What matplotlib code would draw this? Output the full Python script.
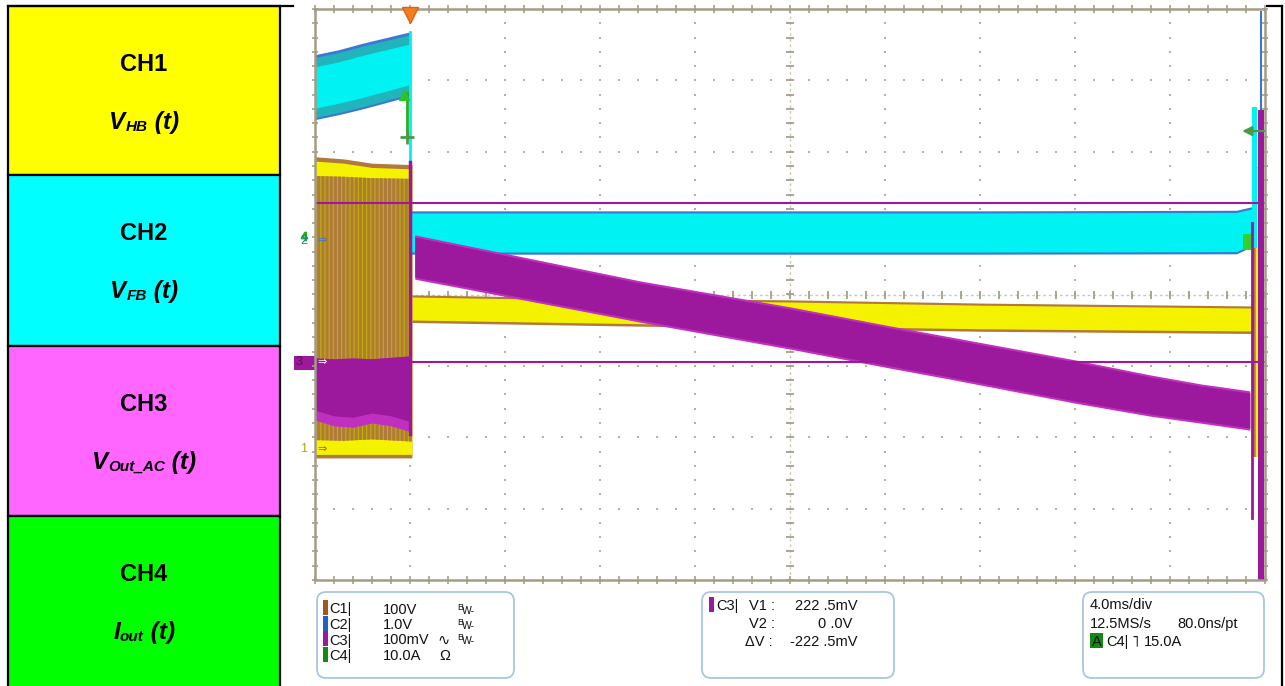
import numpy as np
import matplotlib
matplotlib.use('Agg')
import matplotlib.pyplot as plt
from matplotlib.patches import Rectangle, FancyBboxPatch

plt.rcParams['font.family'] = ['Liberation Sans', 'DejaVu Sans']
plt.rcParams['hatch.linewidth'] = 2.2

# ---------------- data (screen divisions: x = time div 0..10, y = vertical div -4..4) -------------
panel_titles = ['CH1', 'CH2', 'CH3', 'CH4']
panel_main = ['V', 'V', 'V', 'I']
panel_sub = ['HB', 'FB', 'Out_AC', 'out']
panel_colors = ['#ffff00', '#00ffff', '#ff66ff', '#00ff00']

# channel ground markers (div)
ch1_ground = -2.165
ch2_ground = 0.764
ch3_ground = -0.946
ch3_scale_mV = 100.0
cursor_v1_mV = 222.5
cursor_v2_mV = 0.0

# CH1 (V_HB) while switching (before t = 1 div)
ch1_pre_t = [0.0, 0.3, 0.6, 1.02]
ch1_pre_top = [1.93, 1.90, 1.84, 1.82]
ch1_pre_bot = [-2.29, -2.29, -2.29, -2.29]
ch1_pre_mix_top = [1.66, 1.65, 1.63, 1.62]
ch1_pre_mix_bot = [-2.04, -2.05, -2.03, -2.06]
# CH1 after switch-off
ch1_t = [1.02, 3.0, 5.0, 7.0, 9.86]
ch1_top = [-0.035, -0.08, -0.105, -0.15, -0.19]
ch1_bot = [-0.357, -0.40, -0.441, -0.48, -0.511]
# CH1 end burst
ch1_end_t = [9.86, 9.93]
ch1_end_top = [1.79, 1.79]
ch1_end_bot = [-2.28, -2.28]

# CH2 (V_FB)
ch2_pre_t = [0.0, 0.25, 0.5, 0.75, 1.0]
ch2_pre_top = [3.36, 3.43, 3.52, 3.60, 3.68]
ch2_pre_bot = [2.45, 2.52, 2.60, 2.69, 2.78]
ch2_t = [1.0, 3.0, 5.0, 7.0, 9.70, 9.86]
ch2_top = [1.142, 1.142, 1.142, 1.142, 1.15, 1.20]
ch2_bot = [0.595, 0.595, 0.595, 0.595, 0.60, 0.70]
ch2_end_t = [9.86, 9.92]
ch2_end_top = [2.63, 2.63]
ch2_end_bot = [0.65, 0.65]
ch2_spike_t = 9.96
ch2_spike_top = 3.96

# CH3 (V_Out_AC)
ch3_pre_t = [0.0, 0.2, 0.4, 0.6, 0.8, 1.0]
ch3_pre_top = [-0.89, -0.90, -0.89, -0.90, -0.88, -0.86]
ch3_pre_bot = [-1.62, -1.70, -1.72, -1.66, -1.70, -1.78]
ch3_t = [1.05, 3.42, 5.0, 6.05, 6.68, 8.0, 8.79, 9.32, 9.84]
ch3_top = [0.806, 0.161, -0.203, -0.469, -0.623, -0.946, -1.156, -1.282, -1.380]
ch3_bot = [0.245, -0.357, -0.735, -1.001, -1.155, -1.492, -1.674, -1.772, -1.870]
ch3_spike_t = 9.86
ch3_spike_top, ch3_spike_bot = 1.0, -3.13
ch3_edge_t = [9.93, 9.99]
ch3_edge_top, ch3_edge_bot = 2.58, -4.0

# CH4 (I_out)
ch4_t = [0.97, 0.97]
ch4_y = [2.82, 2.21]
ch4_end_t = [9.77, 9.85]
ch4_end_top, ch4_end_bot = 0.85, 0.62
trigger_t = 1.0
trigger_level = 2.29

# info boxes
box1_rows = [('C1|', '100V', 'BW'), ('C2|', '1.0V', 'BW'), ('C3|', '100mV', 'AC_BW'), ('C4|', '10.0A', 'OHM')]
box1_colors = ['#a0581e', '#2060c8', '#9a1a9a', '#108a10']
timebase = '4.0ms/div'
samplerate = '12.5MS/s'
resolution = '80.0ns/pt'
trig_level_txt = '15.0A'

# ------------------------------------------------------------------------------------------
fig = plt.figure(figsize=(12.85, 6.86), dpi=100)
bg = fig.add_axes([0, 0, 1, 1])
bg.set_xlim(0, 1285)
bg.set_ylim(686, 0)
bg.axis('off')
renderer = fig.canvas.get_renderer()

# left panel boxes
bounds = [6, 175, 346, 516, 700]
for i, c in enumerate(panel_colors):
    bg.add_patch(Rectangle((8, bounds[i]), 272, bounds[i + 1] - bounds[i],
                           facecolor=c, edgecolor='black', lw=1.6, zorder=1))
bg.plot([8, 293], [6, 6], color='black', lw=1.6, zorder=2)
bg.plot([1267, 1282], [6, 6], color='black', lw=1.6, zorder=2)
bg.plot([1282, 1282], [6, 690], color='black', lw=1.6, zorder=2)


def rich(xc, base, pieces):
    objs = []
    for s, size, dy in pieces:
        t = bg.text(0, base + dy, s, fontsize=size, fontweight='bold', fontstyle='italic',
                    family='Liberation Sans', va='baseline', ha='left', zorder=5)
        objs.append(t)
    widths = [o.get_window_extent(renderer).width for o in objs]
    x = xc - sum(widths) / 2
    for o, w in zip(objs, widths):
        o.set_x(x)
        x += w


for i in range(4):
    top = bounds[i]
    bg.text(144, top + 65, panel_titles[i], fontsize=17, fontweight='bold',
            family='Liberation Sans', ha='center', va='baseline', zorder=5)
    rich(144, top + 123, [(panel_main[i], 17.5, 0), (panel_sub[i], 11, 2), (' (t)', 17.5, 0)])

# ---------------- scope graticule ----------------
ax = fig.add_axes([315 / 1285, (686 - 580) / 686, 950 / 1285, 571 / 686])
ax.set_xlim(0, 10)
ax.set_ylim(-4, 4)
ax.axis('off')

gridc = '#b8b19c'
tickc = '#a69f88'
subx = np.arange(0, 10.001, 0.2)
suby = np.arange(-4, 4.001, 0.2)
for xv in range(1, 10):
    if xv != 5:
        ax.scatter(np.full_like(suby, xv), suby, marker='s', s=2.2, c=gridc, linewidths=0, zorder=1)
for yv in range(-3, 4):
    if yv != 0:
        ax.scatter(subx, np.full_like(subx, yv), marker='s', s=2.2, c=gridc, linewidths=0, zorder=1)
ax.plot([0, 10], [0, 0], color='#cdc8ba', lw=1.0, ls=(0, (2, 2)), zorder=1)
ax.plot([5, 5], [-4, 4], color='#cdc8ba', lw=1.0, ls=(0, (2, 2)), zorder=1)
ax.plot(subx, np.zeros_like(subx), ls='none', marker='|', ms=6, mew=1.3, color=tickc, zorder=1)
ax.plot(np.full_like(suby, 5), suby, ls='none', marker='_', ms=6, mew=1.3, color=tickc, zorder=1)
for yv in (4, -4):
    ax.plot(subx, np.full_like(subx, yv), ls='none', marker='|', ms=6, mew=1.2, color=tickc,
            zorder=1, clip_on=False)
for xv in (0, 10):
    ax.plot(np.full_like(suby, xv), suby, ls='none', marker='_', ms=5, mew=1.2, color=tickc,
            zorder=1, clip_on=False)
ax.add_patch(Rectangle((0, -4), 10, 8, fill=False, edgecolor='#a39d86', lw=1.8, zorder=8,
                       clip_on=False))

# ---------------- CH1 ----------------
yel, brown, olive = '#f5f200', '#b07a3c', '#c2b300'
ax.fill_between(ch1_pre_t, ch1_pre_bot, ch1_pre_top, color=brown, lw=0, zorder=2)
ax.fill_between(ch1_pre_t, np.array(ch1_pre_bot) + 0.05, np.array(ch1_pre_top) - 0.06,
                color=yel, lw=0, zorder=2)
ax.fill_between(ch1_pre_t, ch1_pre_mix_bot, ch1_pre_mix_top, facecolor=olive,
                edgecolor=brown, hatch='||||', lw=0, zorder=2)
ax.fill_between(ch1_t, np.array(ch1_bot) - 0.035, np.array(ch1_top) + 0.03, color=brown, lw=0, zorder=2)
ax.fill_between(ch1_t, ch1_bot, ch1_top, color=yel, lw=0, zorder=2)
ax.fill_between(ch1_end_t, ch1_end_bot, ch1_end_top, facecolor=yel, edgecolor=brown,
                hatch='||', lw=0, zorder=2)

# ---------------- CH2 ----------------
cyan, teal, blue = '#00f2f2', '#22b4bc', '#3c78d0'
ax.fill_between(ch2_pre_t, ch2_pre_bot, ch2_pre_top, color=blue, lw=0, zorder=3)
ax.fill_between(ch2_pre_t, np.array(ch2_pre_bot) + 0.03, np.array(ch2_pre_top) - 0.04,
                color=teal, lw=0, zorder=3)
ax.fill_between(ch2_pre_t, np.array(ch2_pre_bot) + 0.16, np.array(ch2_pre_top) - 0.17,
                color=cyan, lw=0, zorder=3)
ax.plot([ch2_t[0], ch2_t[0]], [ch2_pre_top[-1], ch2_bot[0]], color=cyan, lw=2, zorder=3)
ax.fill_between(ch2_t, np.array(ch2_bot) - 0.03, np.array(ch2_top) + 0.03, color=blue, lw=0, zorder=3)
ax.fill_between(ch2_t, ch2_bot, ch2_top, color=cyan, lw=0, zorder=3)
ax.fill_between(ch2_end_t, ch2_end_bot, ch2_end_top, color=cyan, lw=0, zorder=3)
ax.plot([ch2_spike_t, ch2_spike_t], [ch2_end_bot[0], ch2_spike_top], color=blue, lw=1.5, zorder=3)

# ---------------- CH3 ----------------
mag, magl = '#9c189c', '#c030c0'
ax.fill_between(ch3_pre_t, np.array(ch3_pre_bot) - 0.14, ch3_pre_top, color=magl, lw=0, zorder=4)
ax.fill_between(ch3_pre_t, ch3_pre_bot, ch3_pre_top, color=mag, lw=0, zorder=4)
ax.plot([1.0, 1.0], [1.85, -1.95], color=mag, lw=2.5, zorder=4)
ax.fill_between(ch3_t, np.array(ch3_bot) - 0.03, np.array(ch3_top) + 0.03, color=magl, lw=0, zorder=4)
ax.fill_between(ch3_t, ch3_bot, ch3_top, color=mag, lw=0, zorder=4)
ax.plot([ch3_spike_t, ch3_spike_t], [ch3_spike_top, ch3_spike_bot], color=mag, lw=2, zorder=4)
ax.fill_between(ch3_edge_t, [ch3_edge_bot] * 2, [ch3_edge_top] * 2, color=mag, lw=0, zorder=4)

# ---------------- CH4 ----------------
grn = '#22b022'
ax.plot(ch4_t, ch4_y, color=grn, lw=2, zorder=5)
ax.plot(ch4_t[0] - 0.03, ch4_y[0] - 0.02, marker='^', ms=7, color='#30c030', zorder=6)
ax.plot(ch4_t[1], ch4_y[1], marker='+', ms=10, mew=2, color='#4a9a4a', zorder=6)
ax.fill_between(ch4_end_t, [ch4_end_bot] * 2, [ch4_end_top] * 2, color='#30d030', lw=0, zorder=5)
ax.annotate('', xy=(9.73, trigger_level), xytext=(10.02, trigger_level),
            arrowprops=dict(arrowstyle='-|>', color='#4a9a4a', lw=1.6, mutation_scale=14),
            zorder=9, annotation_clip=False)
ax.plot(trigger_t, 3.92, marker='v', ms=12, color='#f47c20', mec='#e06010', zorder=9, clip_on=False)

# ---------------- cursors ----------------
v1 = ch3_ground + cursor_v1_mV / ch3_scale_mV
v2 = ch3_ground + cursor_v2_mV / ch3_scale_mV
for v in (v1, v2):
    ax.plot([0, 10], [v, v], color='#9c189c', lw=1.5, zorder=7)

# ---------------- channel ground markers ----------------
ax.text(-0.12, ch1_ground, '1', color='#b0a800', fontsize=9, ha='center', va='center', clip_on=False)
ax.text(0.07, ch1_ground, '\u21d2', color='#a06020', fontsize=8, ha='center', va='center',
        clip_on=False, family='DejaVu Sans', zorder=9)
ax.plot(-0.12, ch2_ground + 0.05, marker='$4$', ms=6, color='#20b020', ls='none', clip_on=False)
ax.text(-0.12, ch2_ground - 0.02, '2', color='#138a8a', fontsize=9, ha='center', va='center', clip_on=False)
ax.text(0.07, ch2_ground, '\u21d2', color='#3c78d0', fontsize=8, ha='center', va='center',
        clip_on=False, family='DejaVu Sans', zorder=9)
bg.add_patch(Rectangle((294, 356), 22, 14, facecolor='#9c189c', edgecolor='none', zorder=6))
ax.text(-0.17, ch3_ground, '3', color='#5a0a5a', fontsize=9, ha='center', va='center',
        clip_on=False, zorder=9)
ax.text(0.07, ch3_ground, '\u21d2', color='white', fontsize=8, ha='center', va='center',
        clip_on=False, family='DejaVu Sans', zorder=9)

# ---------------- info boxes ----------------
boxc = '#a9c6e2'
for (x0, x1) in [(317, 514), (702, 894), (1083, 1264)]:
    bg.add_patch(FancyBboxPatch((x0, 592), x1 - x0, 86, boxstyle='round,pad=0,rounding_size=9',
                                facecolor='white', edgecolor=boxc, lw=1.3, zorder=3))

fs = 10.5
txt = dict(fontsize=fs, color='#111111', va='baseline', zorder=5, family='Liberation Sans')
for i, (lab, val, extra) in enumerate(box1_rows):
    base = 613.5 + i * 15.5
    bg.add_patch(Rectangle((323, base - 13.5), 4.5, 15, facecolor=box1_colors[i], edgecolor='none', zorder=5))
    bg.text(329, base, lab, **txt)
    bg.text(383, base, val, **txt)
    if extra in ('BW', 'AC_BW'):
        bg.text(457, base - 4, 'B', fontsize=6.5, color='#111111', va='baseline', zorder=5)
        bg.text(462, base, 'W-', fontsize=7.5, color='#111111', va='baseline', zorder=5)
    if extra == 'AC_BW':
        bg.text(437, base, '\u223f', fontsize=fs, color='#111111', va='baseline', zorder=5,
                family='DejaVu Sans')
    if extra == 'OHM':
        bg.text(439, base, '\u03a9', **txt)

bg.add_patch(Rectangle((709, 597), 5, 15, facecolor='#9c189c', edgecolor='none', zorder=5))
bg.text(716, 610, 'C3|', **txt)
rows2 = [('V1 :', cursor_v1_mV, 'mV', 610, 749), ('V2 :', cursor_v2_mV, 'V', 628, 749),
         ('\u0394V :', cursor_v2_mV - cursor_v1_mV, 'mV', 646, 745)]
for lab, val, unit, base, xl in rows2:
    bg.text(xl, base, lab, **txt)
    whole = int(val)
    frac = int(round(abs(val - whole) * 10))
    s = f'{whole} .{frac}{unit}'
    bg.text(858 if unit == 'mV' else 852, base, s, ha='right', **txt)

bg.text(1090, 609, timebase, **txt)
bg.text(1090, 628, samplerate, **txt)
bg.text(1177, 628, resolution, **txt)
bg.add_patch(Rectangle((1090, 633), 13, 15, facecolor='#118a11', edgecolor='none', zorder=5))
bg.text(1096.5, 646, 'A', ha='center', **txt)
bg.text(1106, 646, 'C4|', **txt)
bg.text(1131, 646, '\u02e5', fontsize=fs, color='#111111', va='baseline', zorder=5, family='DejaVu Sans')
bg.text(1144, 646, trig_level_txt, **txt)

fig.savefig('out.png', dpi=100)
